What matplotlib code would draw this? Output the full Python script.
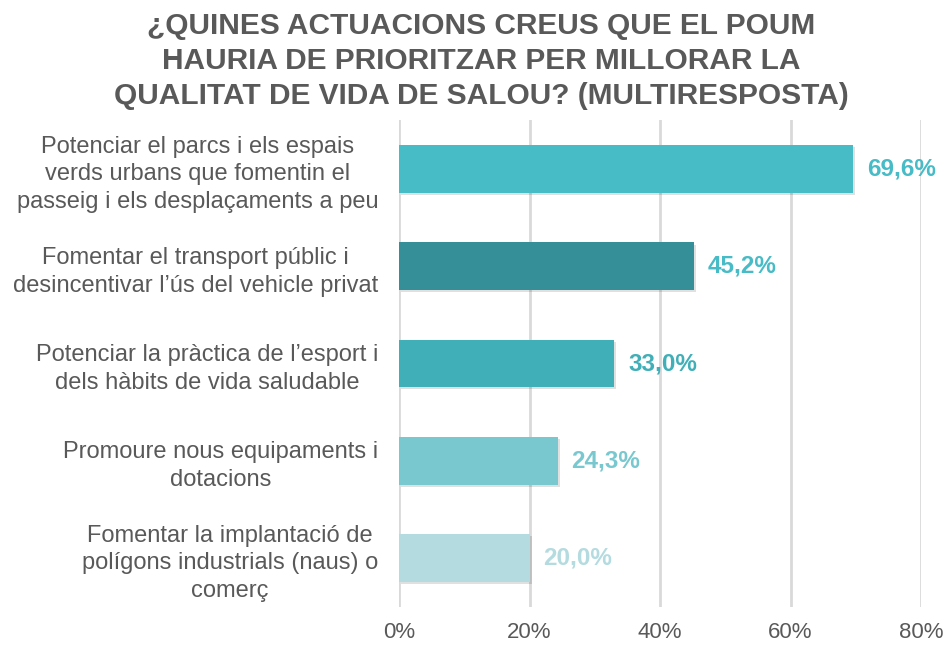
import matplotlib
matplotlib.use("Agg")
import matplotlib.pyplot as plt
import matplotlib.patheffects as pe
from matplotlib.ticker import FuncFormatter

categories = [
    "Potenciar el parcs i els espais\nverds urbans que fomentin el\npasseig i els desplaçaments a peu",
    "Fomentar el transport públic i\ndesincentivar l’ús del vehicle privat",
    "Potenciar la pràctica de l’esport i\ndels hàbits de vida saludable",
    "Promoure nous equipaments i\ndotacions",
    "Fomentar la implantació de\npolígons industrials (naus) o\ncomerç",
]
values = [69.6, 45.2, 33.0, 24.3, 20.0]
bar_colors = ["#47BBC6", "#358F98", "#40AFB8", "#7AC8CF", "#B3DBE0"]
label_colors = ["#47BBC6", "#47BBC6", "#40AFB8", "#7AC8CF", "#B3DBE0"]
xticks = [0, 20, 40, 60, 80]
title = "¿QUINES ACTUACIONS CREUS QUE EL POUM\nHAURIA DE PRIORITZAR PER MILLORAR LA\nQUALITAT DE VIDA DE SALOU? (MULTIRESPOSTA)"

plt.rcParams['font.family'] = ['Liberation Sans', 'DejaVu Sans']

fig = plt.figure(figsize=(9.5, 6.46), dpi=100)
ax = fig.add_axes([399/950, 1-606.6/646, (921-399)/950, (606.6-120.4)/646])

n = len(values)
ypos = list(range(n))
bars = ax.barh(ypos, values, height=0.49, color=bar_colors, zorder=3)
for b in bars:
    b.set_path_effects([pe.SimplePatchShadow(offset=(1.5, -1.5), shadow_rgbFace='#000000', alpha=0.12), pe.Normal()])

for y, v, c in zip(ypos, values, label_colors):
    ax.annotate(f"{v:.1f}%".replace('.', ','), (v, y), xytext=(10, 0), textcoords='offset points',
                ha='left', va='center', fontsize=17.5, fontweight='bold', color=c, zorder=4)

ax.set_ylim(n - 0.5, -0.5)
ax.set_xlim(0, 80)
ax.set_xticks(xticks)
ax.xaxis.set_major_formatter(FuncFormatter(lambda x, p: f"{x:.0f}%"))
ax.set_yticks(ypos)
ax.set_yticklabels(categories, fontsize=17, color="#595959", multialignment='center', linespacing=1.35)
ax.tick_params(axis='both', length=0)
ax.tick_params(axis='y', pad=15)
ax.tick_params(axis='x', pad=11, labelsize=16, labelcolor="#595959")
ax.grid(axis='x', color='#D9D9D9', linewidth=2, zorder=0)
for s in ax.spines.values():
    s.set_visible(False)

fig.text(481/950, 1-61/646, title, ha='center', va='center', fontsize=21.5, fontweight='bold',
         color="#595959", linespacing=1.33)

fig.savefig("out.png", dpi=100)
